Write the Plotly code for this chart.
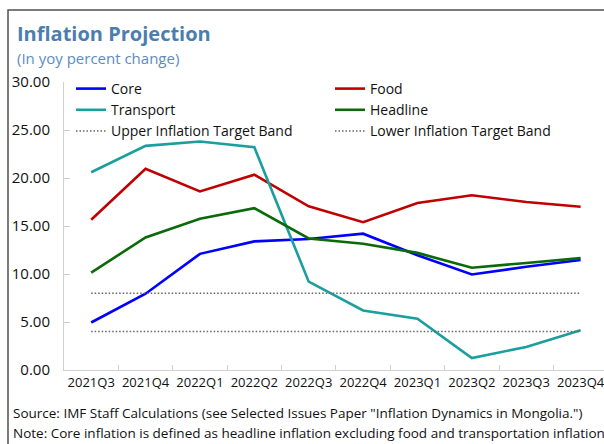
import plotly.graph_objects as go

quarters = ["2021Q3", "2021Q4", "2022Q1", "2022Q2", "2022Q3", "2022Q4", "2023Q1", "2023Q2", "2023Q3", "2023Q4"]
core = [4.95, 7.95, 12.1, 13.4, 13.65, 14.2, 11.95, 9.95, 10.75, 11.45]
food = [15.65, 20.95, 18.6, 20.35, 17.05, 15.4, 17.4, 18.2, 17.5, 17.0]
transport = [20.6, 23.35, 23.8, 23.2, 9.2, 6.2, 5.35, 1.25, 2.4, 4.15]
headline = [10.15, 13.8, 15.75, 16.85, 13.7, 13.15, 12.2, 10.65, 11.15, 11.65]
upper_band = [8.0] * 10
lower_band = [4.0] * 10

FONT = "Open Sans"
W, H = 604, 444
L, T, B = 64, 82, 74

fig = go.Figure()
series = [
    ("Core", core, "#0000ff", "solid", 2.6),
    ("Food", food, "#c00000", "solid", 2.6),
    ("Transport", transport, "#1a9e9e", "solid", 2.6),
    ("Headline", headline, "#0a6a0a", "solid", 2.6),
    ("Upper Inflation Target Band", upper_band, "#666666", "1.5px,2px", 1.5),
    ("Lower Inflation Target Band", lower_band, "#666666", "1.5px,2px", 1.5),
]
for name, vals, col, dash, w in series:
    fig.add_trace(go.Scatter(x=quarters, y=vals, mode="lines", name=name,
                             line=dict(color=col, width=w, dash=dash)))

plot_h = H - T - B
plot_w = W - L

def px(x):
    return (x - L) / plot_w

def py(y):
    return (H - B - y) / plot_h

fig.update_layout(
    width=W, height=H,
    margin=dict(l=L, r=0, t=T, b=B, autoexpand=False),
    paper_bgcolor="white", plot_bgcolor="white",
    font=dict(family=FONT, size=14, color="#111111"),
    showlegend=True,
    legend=dict(orientation="h", x=px(71), y=py(73), xanchor="left", yanchor="top",
                entrywidth=214, entrywidthmode="pixels", bgcolor="rgba(0,0,0,0)",
                font=dict(family=FONT, size=14, color="#111111"),
                tracegroupgap=0, itemwidth=30),
    xaxis=dict(type="category", range=[-0.5, 9.43], showgrid=False,
               showline=True, linecolor="#d0d0d0", linewidth=1,
               ticks="inside", tickson="boundaries", ticklen=5, tickcolor="#d0d0d0",
               tickangle=0, automargin=False,
               tickfont=dict(family=FONT, size=13, color="#111111"), zeroline=False),
    yaxis=dict(range=[0, 30], dtick=5, tickformat=".2f", showgrid=False,
               showline=True, linecolor="#d0d0d0", linewidth=1,
               ticks="inside", ticklen=6, tickcolor="#d0d0d0", automargin=False,
               ticklabelstandoff=10,
               tickfont=dict(family=FONT, size=15, color="#111111"), zeroline=False),
    annotations=[
        dict(text="<b>Inflation Projection</b>", xref="paper", yref="paper",
             x=px(15), y=py(33), xanchor="left", yanchor="middle", showarrow=False,
             font=dict(family=FONT, size=20, color="#4a7eb0")),
        dict(text="(In yoy percent change)", xref="paper", yref="paper",
             x=px(15), y=py(58), xanchor="left", yanchor="middle", showarrow=False,
             font=dict(family=FONT, size=15, color="#5b8cc2")),
        dict(text='Source: IMF Staff Calculations (see Selected Issues Paper "Inflation Dynamics in Mongolia.")',
             xref="paper", yref="paper", x=px(11), y=py(413), xanchor="left", yanchor="middle",
             showarrow=False, font=dict(family=FONT, size=13.5, color="#111111")),
        dict(text="Note: Core inflation is defined as headline inflation excluding food and transportation inflation",
             xref="paper", yref="paper", x=px(11), y=py(433), xanchor="left", yanchor="middle",
             showarrow=False, font=dict(family=FONT, size=13.5, color="#111111")),
    ],
    shapes=[
        dict(type="rect", xref="paper", yref="paper", x0=px(8), x1=px(620), y0=py(470), y1=py(10),
             line=dict(color="#505050", width=1.5), fillcolor="rgba(0,0,0,0)", layer="below"),
    ],
)

fig.write_html("out.html", config={"displayModeBar": False},
               post_script="document.body.style.margin='0px';document.body.style.overflow='hidden';")
